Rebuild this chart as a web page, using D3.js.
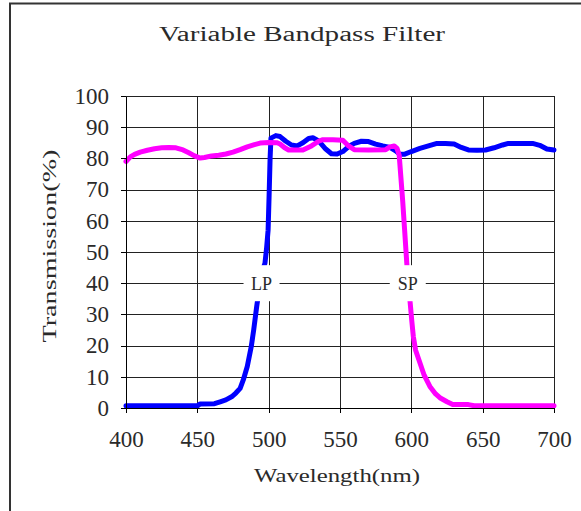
<!DOCTYPE html>
<html>
<head>
<meta charset="utf-8">
<script src="https://cdn.jsdelivr.net/npm/d3@7"></script>
<style>
  html, body { margin: 0; padding: 0; background: #fff; }
  svg { display: block; }
  text { font-family: "Liberation Serif", "DejaVu Serif", serif; fill: #2a2a2a; }
</style>
</head>
<body>
<svg id="chart" width="581" height="511"></svg>
<script>
// Long-pass (LP) filter: wavelength (nm) and transmission (%)
const lpWavelength = [400, 450, 452, 462, 466, 470, 474, 477, 480, 482.2, 485, 487.8, 489.5, 491.6, 493, 494.3, 496, 497.4, 498.5, 499.6, 500.3, 501, 501.6, 505, 508, 512, 516, 520, 524, 528, 531, 535, 540, 544, 548, 552, 556, 560, 565, 570, 575, 580, 585, 589, 592, 595, 600, 606, 612, 618, 624, 630, 635, 640, 646, 652, 658, 664, 668, 676, 685, 690, 695, 700];
const lpTransmission = [0.7, 0.7, 1.3, 1.4, 2.0, 2.6, 3.6, 4.8, 6.3, 9.0, 13.3, 19.7, 25.0, 32.5, 37.0, 41.0, 44.5, 46.4, 51.0, 57.0, 68.0, 80.0, 86.5, 87.3, 87.0, 85.5, 84.3, 84.0, 85.0, 86.4, 86.6, 85.6, 83.0, 81.5, 81.4, 82.2, 83.8, 84.8, 85.5, 85.4, 84.6, 84.0, 83.5, 82.4, 81.3, 81.3, 82.2, 83.2, 84.0, 84.8, 84.8, 84.6, 83.5, 82.7, 82.6, 82.7, 83.4, 84.3, 84.8, 84.8, 84.8, 84.2, 83.0, 82.7];

// Short-pass (SP) filter: wavelength (nm) and transmission (%)
const spWavelength = [400, 403, 406, 410, 415, 420, 425, 430, 435, 440, 444, 448, 452, 455, 460, 465, 470, 475, 480, 485, 490, 494, 500, 506, 508, 511, 514, 524, 530, 535, 538, 545, 552, 556, 560, 570, 582, 585, 588, 590, 591.5, 592.5, 594, 595.3, 596.8, 597.8, 599, 600.3, 601.4, 603, 606, 609, 613, 617, 620, 625, 629, 640, 644, 660, 700];
const spTransmission = [79.0, 80.5, 81.3, 82.0, 82.6, 83.1, 83.4, 83.5, 83.4, 82.7, 81.8, 80.8, 80.1, 80.3, 80.8, 81.0, 81.4, 82.0, 82.8, 83.7, 84.4, 84.9, 85.1, 85.0, 84.6, 83.5, 82.7, 82.7, 84.0, 85.5, 86.0, 86.0, 85.8, 84.0, 82.8, 82.7, 82.8, 83.7, 84.0, 83.2, 81.0, 75.0, 66.0, 57.0, 46.5, 40.0, 34.7, 28.0, 22.9, 18.5, 14.5, 10.5, 6.9, 4.5, 3.3, 2.0, 1.1, 1.1, 0.7, 0.7, 0.7];

// Curve labels placed where each edge crosses 40 %
const labelText = ["LP", "SP"];
const labelWavelength = [495, 597.5];
const labelTransmission = [40, 40];

// Axis ticks
const xTicks = [400, 450, 500, 550, 600, 650, 700];
const yTicks = [0, 10, 20, 30, 40, 50, 60, 70, 80, 90, 100];

const svg = d3.select("#chart");
const W = 581, H = 511;
const plot = { left: 126, top: 96, width: 428, height: 312 };

// Outer frame (only its top and left edges fall inside the view)
svg.append("rect")
  .attr("x", 10).attr("y", 3.5)
  .attr("width", W + 20).attr("height", H + 20)
  .attr("fill", "#fff").attr("stroke", "#333").attr("stroke-width", 2);

const x = d3.scaleLinear().domain([400, 700]).range([plot.left, plot.left + plot.width]);
const y = d3.scaleLinear().domain([0, 100]).range([plot.top + plot.height, plot.top]);

// Title
svg.append("text")
  .attr("x", 302).attr("y", 41)
  .attr("text-anchor", "middle")
  .attr("font-size", 20)
  .attr("textLength", 286).attr("lengthAdjust", "spacingAndGlyphs")
  .text("Variable Bandpass Filter");

// Grid
const grid = svg.append("g").attr("shape-rendering", "crispEdges");
grid.selectAll("line.h").data(yTicks).join("line")
  .attr("class", "h")
  .attr("x1", x(400)).attr("x2", x(700))
  .attr("y1", d => Math.round(y(d)) + 0.5).attr("y2", d => Math.round(y(d)) + 0.5)
  .attr("stroke", "#222").attr("stroke-width", 1);
grid.selectAll("line.v").data(xTicks).join("line")
  .attr("class", "v")
  .attr("y1", y(0)).attr("y2", y(100))
  .attr("x1", d => Math.round(x(d)) + 0.5).attr("x2", d => Math.round(x(d)) + 0.5)
  .attr("stroke", "#222").attr("stroke-width", 1);

// Curves
const line = d3.line().x(d => x(d[0])).y(d => y(d[1]));
const lpData = d3.zip(lpWavelength, lpTransmission);
const spData = d3.zip(spWavelength, spTransmission);

svg.append("path").datum(lpData)
  .attr("d", line)
  .attr("fill", "none").attr("stroke", "#0000ff")
  .attr("stroke-width", 5).attr("stroke-linejoin", "round").attr("stroke-linecap", "round");

svg.append("path").datum(spData)
  .attr("d", line)
  .attr("fill", "none").attr("stroke", "#ff00ff")
  .attr("stroke-width", 5).attr("stroke-linejoin", "round").attr("stroke-linecap", "round");

// Curve labels on white boxes
const labels = svg.append("g").selectAll("g")
  .data(d3.zip(labelText, labelWavelength, labelTransmission))
  .join("g")
  .attr("transform", d => `translate(${x(d[1])},${y(d[2])})`);
labels.append("rect")
  .attr("x", -18).attr("y", -18).attr("width", 36).attr("height", 36)
  .attr("fill", "#fff");
labels.append("text")
  .attr("text-anchor", "middle").attr("dy", "0.35em")
  .attr("font-size", 18)
  .text(d => d[0]);

// Axes
const xAxis = svg.append("g")
  .attr("transform", `translate(0,${y(0)})`)
  .call(d3.axisBottom(x).tickValues(xTicks).tickSize(5).tickPadding(18).tickSizeOuter(0));
const yAxis = svg.append("g")
  .attr("transform", `translate(${x(400)},0)`)
  .call(d3.axisLeft(y).tickValues(yTicks).tickSize(5).tickPadding(12).tickSizeOuter(0));
[xAxis, yAxis].forEach(a => {
  a.select(".domain").attr("stroke", "#000").attr("shape-rendering", "crispEdges");
  a.selectAll(".tick line").attr("stroke", "#000").attr("shape-rendering", "crispEdges");
  a.selectAll(".tick text")
    .attr("font-family", "'Liberation Serif', serif")
    .attr("font-size", 23).attr("fill", "#2a2a2a");
});

// Axis titles
svg.append("text")
  .attr("x", 337).attr("y", 482)
  .attr("text-anchor", "middle").attr("font-size", 19)
  .attr("textLength", 166).attr("lengthAdjust", "spacingAndGlyphs")
  .text("Wavelength(nm)");

svg.append("text")
  .attr("transform", "translate(56,246) rotate(-90)")
  .attr("text-anchor", "middle").attr("font-size", 19)
  .attr("textLength", 193).attr("lengthAdjust", "spacingAndGlyphs")
  .text("Transmission(%)");
</script>
</body>
</html>
